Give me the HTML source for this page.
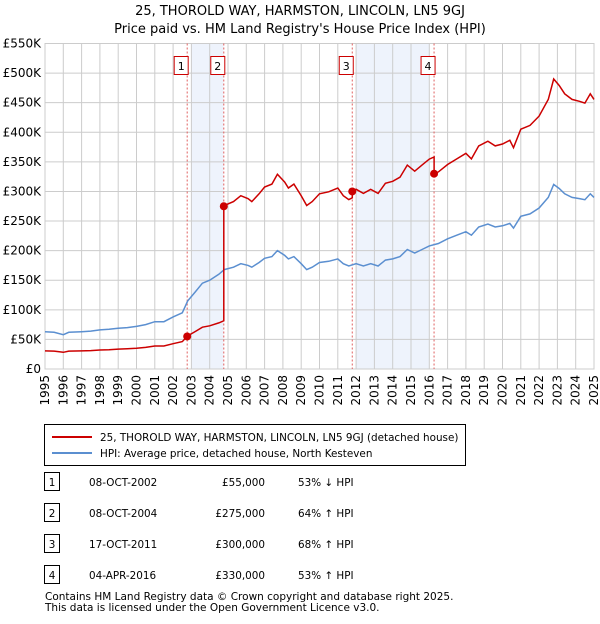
<!DOCTYPE html>
<html><head><meta charset="utf-8"><style>
body{margin:0;background:#fff;font-family:"DejaVu Sans","Liberation Sans",sans-serif;}
svg text{font-family:"DejaVu Sans","Liberation Sans",sans-serif;fill:#000;}
</style></head><body>
<svg id="c" width="600" height="620" viewBox="0 0 600 620" xmlns="http://www.w3.org/2000/svg">
<text x="300" y="15" text-anchor="middle" font-size="13">25, THOROLD WAY, HARMSTON, LINCOLN, LN5 9GJ</text>
<text x="300" y="33" text-anchor="middle" font-size="13">Price paid vs. HM Land Registry's House Price Index (HPI)</text>
<g id="plot"></g>
<g>
<rect x="44.5" y="424.5" width="421" height="41" fill="#fff" stroke="#000"/>
<line x1="52" y1="437" x2="92" y2="437" stroke="#cc0000" stroke-width="2"/>
<text x="100" y="441" font-size="10.4">25, THOROLD WAY, HARMSTON, LINCOLN, LN5 9GJ (detached house)</text>
<line x1="52" y1="453" x2="92" y2="453" stroke="#5b8fd0" stroke-width="2"/>
<text x="100" y="457" font-size="10.4">HPI: Average price, detached house, North Kesteven</text>
</g>
<g id="table"></g>
<text x="45" y="600" font-size="10.5" fill="#444">Contains HM Land Registry data © Crown copyright and database right 2025.</text>
<text x="45" y="611" font-size="10.5" fill="#444">This data is licensed under the Open Government Licence v3.0.</text>
</svg>
<script>
const hpiYears=[1995,1995.5,1996,1996.3,1997,1997.5,1998,1998.5,1999,1999.5,2000,2000.5,2001,2001.5,2002,2002.5,2002.8,2003.2,2003.6,2004,2004.5,2004.8,2005.3,2005.7,2006.1,2006.3,2006.7,2007,2007.4,2007.7,2008.1,2008.3,2008.6,2009,2009.3,2009.6,2010,2010.5,2011,2011.3,2011.6,2012,2012.4,2012.8,2013.2,2013.6,2014,2014.4,2014.8,2015.2,2015.6,2016,2016.5,2017,2017.5,2018,2018.3,2018.7,2019.2,2019.6,2020,2020.4,2020.6,2021,2021.5,2022,2022.5,2022.8,2023.1,2023.4,2023.8,2024.2,2024.5,2024.8,2025];
const hpiValues=[63,62,58,62,63,64,66,67,69,70,72,75,80,80,88,95,115,130,145,150,160,168,172,178,175,172,180,187,190,200,192,186,190,178,168,172,180,182,186,178,174,178,174,178,174,184,186,190,202,196,202,208,212,220,226,232,226,240,245,240,242,246,238,258,262,272,290,312,305,296,290,288,286,296,290];
const saleLabels=["1","2","3","4"];
const saleYears=[2002.77,2004.77,2011.79,2016.26];
const salePrices=[55,275,300,330];
const saleDates=["08-OCT-2002","08-OCT-2004","17-OCT-2011","04-APR-2016"];
const salePriceText=["£55,000","£275,000","£300,000","£330,000"];
const saleHpiText=["53% ↓ HPI","64% ↑ HPI","68% ↑ HPI","53% ↑ HPI"];
const yTicks=[0,50,100,150,200,250,300,350,400,450,500,550];
const yTickLabels=["£0","£50K","£100K","£150K","£200K","£250K","£300K","£350K","£400K","£450K","£500K","£550K"];
const xTicks=[1995,1996,1997,1998,1999,2000,2001,2002,2003,2004,2005,2006,2007,2008,2009,2010,2011,2012,2013,2014,2015,2016,2017,2018,2019,2020,2021,2022,2023,2024,2025];
const shadeRanges=[[2003,2004.75],[2012,2016]];

const NS="http://www.w3.org/2000/svg";
const X0=45,X1=594,Y0=369,Y1=43.5;
const sx=y=>X0+(y-1995)/30*(X1-X0);
const sy=v=>Y0-v/550*(Y0-Y1);
const plot=document.getElementById('plot');
function mk(tag,attrs,parent){const e=document.createElementNS(NS,tag);for(const k in attrs)e.setAttribute(k,attrs[k]);(parent||plot).appendChild(e);return e;}
function hpiAt(t){for(let i=1;i<hpiYears.length;i++){if(t<=hpiYears[i]){const f=(t-hpiYears[i-1])/(hpiYears[i]-hpiYears[i-1]);return hpiValues[i-1]+f*(hpiValues[i]-hpiValues[i-1]);}}return hpiValues[hpiValues.length-1];}

shadeRanges.forEach(r=>{const e=mk('rect',{x:sx(r[0]),y:Y1,width:sx(r[1])-sx(r[0]),height:Y0-Y1,fill:'#eef3fc'});

});
xTicks.forEach(t=>{const e=mk('line',{x1:sx(t),x2:sx(t),y1:Y1,y2:Y0,stroke:'#ccc'});


const l=mk('text',{x:0,y:0,'font-size':12,'text-anchor':'end',transform:`translate(${sx(t)+4},${Y0+6}) rotate(-90)`});l.textContent=t;

});
yTicks.forEach((v,i)=>{const e=mk('line',{x1:X0,x2:X1,y1:sy(v),y2:sy(v),stroke:'#ccc'});


const l=mk('text',{x:X0-4,y:sy(v)+4,'font-size':12,'text-anchor':'end'});l.textContent=yTickLabels[i];

});
mk('rect',{x:X0,y:Y1,width:X1-X0,height:Y0-Y1,fill:'none',stroke:'#ccc'});

saleYears.forEach((s,i)=>{const e=mk('line',{x1:sx(s),x2:sx(s),y1:Y1,y2:Y0,stroke:'#e06060','stroke-dasharray':'2,2'});


const b=mk('rect',{x:sx(s)-13,y:56.5,width:14,height:18,fill:'#fff',stroke:'#cc0000'});


const t=mk('text',{x:sx(s)-6,y:70,'font-size':11,'text-anchor':'middle'});t.textContent=saleLabels[i];

});

let d='';hpiYears.forEach((y,i)=>{d+=(i?'L':'M')+sx(y).toFixed(1)+','+sy(hpiValues[i]).toFixed(1);});
const hl=mk('path',{d:d,fill:'none',stroke:'#5b8fd0','stroke-width':1.5});


function seg(t){let k=0;for(let i=0;i<saleYears.length;i++)if(t>=saleYears[i])k=i;return salePrices[k]*hpiAt(t)/hpiAt(saleYears[k]);}
const pts=hpiYears.concat(saleYears).sort((a,b)=>a-b);
let d2='';pts.forEach((t,i)=>{
 const si=saleYears.indexOf(t);
 if(si>0){const prev=salePrices[si-1]*hpiAt(t)/hpiAt(saleYears[si-1]);d2+='L'+sx(t).toFixed(1)+','+sy(prev).toFixed(1);}
 d2+=(i?'L':'M')+sx(t).toFixed(1)+','+sy(seg(t)).toFixed(1);});
const pl=mk('path',{d:d2,fill:'none',stroke:'#cc0000','stroke-width':1.5});


saleYears.forEach((s,i)=>{const c=mk('circle',{cx:sx(s),cy:sy(salePrices[i]),r:4,fill:'#cc0000'});

});

const tb=document.getElementById('table');
saleLabels.forEach((lab,i)=>{const y=483+i*31;
 const b=mk('rect',{x:44.5,y:y-10.5,width:15,height:18,fill:'#fff',stroke:'#000'},tb);
 
 
 const n=mk('text',{x:52,y:y+3,'font-size':10.4,'text-anchor':'middle'},tb);n.textContent=lab;
 
 
 const a=mk('text',{x:89,y:y+3,'font-size':10.4},tb);a.textContent=saleDates[i];
 
 
 const p=mk('text',{x:265,y:y+3,'font-size':10.4,'text-anchor':'end'},tb);p.textContent=salePriceText[i];
 
 
 const h=mk('text',{x:298,y:y+3,'font-size':10.4},tb);h.textContent=saleHpiText[i];
 
 });
</script>
</body></html>
